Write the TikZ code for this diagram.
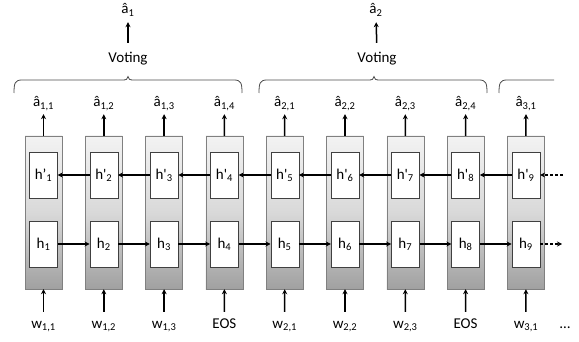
\documentclass[tikz,border=0pt]{standalone}
\usepackage{fontspec}
\setmainfont{Carlito}
\usetikzlibrary{arrows.meta}
\newcommand\ah{â}
\newcommand\pr{\textquotesingle}
\tikzset{
  col/.style={draw=black!50, top color=black!5, bottom color=black!37, middle color=black!15, minimum width=37pt, minimum height=153pt, inner sep=0pt},
  hb/.style={draw=black!75, fill=white, minimum width=28pt, minimum height=46pt, inner sep=0pt},
  arr/.style={line width=1.5pt, -{Stealth[length=5pt,width=5pt]}},
  darr/.style={arr, dashed, dash pattern=on 3pt off 2pt},
  toplab/.style={inner sep=0pt, anchor=base, text height=14pt, text depth=3pt},
  botlab/.style={inner sep=0pt, anchor=base, text height=12pt, text depth=4pt},
  brace/.style={line width=0.8pt, draw=black!70}
}
\begin{document}
\begin{tikzpicture}[x=1pt,y=-1pt,font=\fontsize{15}{18}\selectfont]
\useasboundingbox (0,0) rectangle (579,342);
\foreach \i in {1,...,9}{
  \pgfmathsetmacro\xx{43.5+60.3*(\i-1)}
  \node[col] (c\i) at (\xx,212.5) {};
  \node[hb] (hp\i) at (\xx,175) {};
  \node[hb] (h\i) at (\xx,244) {};
}
% inner labels
\node at (hp1) {h’\textsubscript{1}};
\foreach \i in {2,...,9}{
  \node at (hp\i) {h\pr\textsubscript{\i}};
}
\foreach \i in {1,...,9}{
  \node at (h\i) {h\textsubscript{\i}};
}
% recurrent arrows
\foreach \i [evaluate=\i as \j using int(\i+1)] in {1,...,8}{
  \draw[arr] (h\i.east) -- (h\j.west);
  \draw[arr] (hp\j.west) -- (hp\i.east);
}
\coordinate (din) at (563,175);
\coordinate (dout) at (562,244);
\draw[darr] (din) -- (hp9.east);
\draw[darr] (h9.east) -- (dout);
% bottom labels
\node[botlab] (w1) at (43.5,328) {w\textsubscript{1,1}};
\node[botlab] (w2) at (103.8,328) {w\textsubscript{1,2}};
\node[botlab] (w3) at (164.1,328) {w\textsubscript{1,3}};
\node[botlab] (w4) at (224.4,328) {EOS};
\node[botlab] (w5) at (284.7,328) {w\textsubscript{2,1}};
\node[botlab] (w6) at (345.0,328) {w\textsubscript{2,2}};
\node[botlab] (w7) at (405.3,328) {w\textsubscript{2,3}};
\node[botlab] (w8) at (465.6,328) {EOS};
\node[botlab] (w9) at (526.0,328) {w\textsubscript{3,1}};
\node[botlab] (dots) at (565,328) {…};
\foreach \i in {1,...,9}{
  \draw[arr, shorten <=4pt] (w\i.north) -- (c\i.south);
}
% top labels
\node[toplab] (o1) at (43.5,107) {\ah\textsubscript{1,1}};
\node[toplab] (o2) at (103.8,107) {\ah\textsubscript{1,2}};
\node[toplab] (o3) at (164.1,107) {\ah\textsubscript{1,3}};
\node[toplab] (o4) at (224.4,107) {\ah\textsubscript{1,4}};
\node[toplab] (o5) at (284.7,107) {\ah\textsubscript{2,1}};
\node[toplab] (o6) at (345.0,107) {\ah\textsubscript{2,2}};
\node[toplab] (o7) at (405.3,107) {\ah\textsubscript{2,3}};
\node[toplab] (o8) at (465.6,107) {\ah\textsubscript{2,4}};
\node[toplab] (o9) at (526.0,107) {\ah\textsubscript{3,1}};
\foreach \i in {1,...,9}{
  \draw[arr, shorten >=4pt] (c\i.north) -- (o\i.south);
}
% brackets
\draw[brace] (14,93) .. controls (14,83) and (15,80) .. (22,80) -- (122,80)
  .. controls (126,80) and (128,79.5) .. (128,76.5) .. controls (128,79.5) and (130,80) .. (134,80)
  -- (234,80) .. controls (241,80) and (242,83) .. (242,93);
\draw[brace] (259,93) .. controls (259,83) and (260,80) .. (267,80) -- (368,80)
  .. controls (372,80) and (374,79.5) .. (374,76.5) .. controls (374,79.5) and (376,80) .. (380,80)
  -- (479,80) .. controls (486,80) and (487,83) .. (487,93);
\draw[brace] (499,93) .. controls (499,83) and (500,80) .. (507,80) -- (554,80);
% voting
\node[inner sep=0pt, anchor=base, text height=11pt, text depth=3pt] (v1) at (128,63) {Voting};
\node[inner sep=0pt, anchor=base, text height=11pt, text depth=3pt] (v2) at (377,63) {Voting};
\node[toplab] (a1) at (128,14) {\ah\textsubscript{1}};
\node[toplab] (a2) at (376,14) {\ah\textsubscript{2}};
\draw[arr, shorten <=9pt, shorten >=5pt] (v1.north) -- (a1.south);
\draw[arr, shorten <=9pt, shorten >=5pt] (v2.north) -- (a2.south);
\end{tikzpicture}
\end{document}
